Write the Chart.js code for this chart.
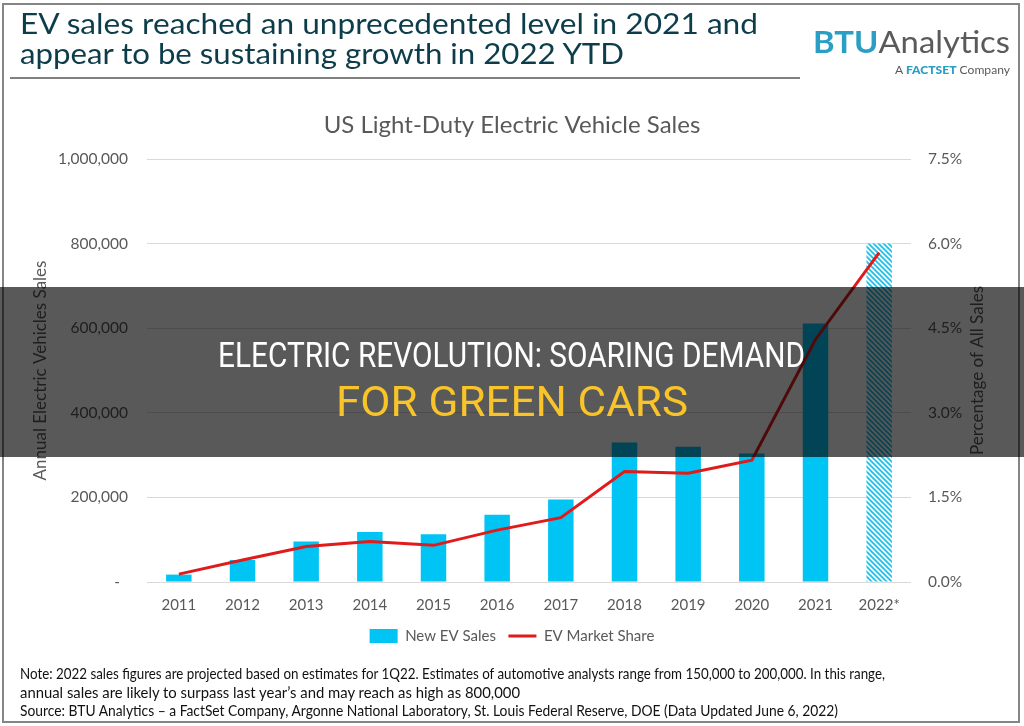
<!DOCTYPE html>
<html>
<head>
<meta charset="utf-8">
<script src="https://cdn.jsdelivr.net/npm/chart.js@4.4.1/dist/chart.umd.min.js"></script>
<style>
    html, body { margin:0; padding:0; background:#ffffff; }
    #page { position:relative; width:1024px; height:726px; overflow:hidden; font-family:Lato, "Open Sans", sans-serif; }
    #chartBox { position:absolute; left:0; top:0; width:1024px; height:726px; }
    .frame { position:absolute; left:2px; top:3px; width:1018px; height:720px; border:2px solid #858585; box-sizing:border-box; }
    .txt { position:absolute; white-space:nowrap; line-height:1; transform-origin:left center; }
    .head { font-size:28px; color:#0d3d4b; left:20px; }
    .rule { position:absolute; left:10px; top:77px; width:790px; height:2px; background:#808080; }
    .logo { font-size:30px; top:26px; color:#5a5a5a; }
    .logo b { color:#2a9ec4; font-weight:700; }
    .sub { font-size:12px; top:64px; color:#5a5a5a; }
    .sub b { color:#2a9ec4; font-weight:900; }
    .note { font-size:15px; color:#111111; left:20px; }
    .band { position:absolute; left:0; top:287px; width:1024px; height:170px; background:rgba(0,0,0,0.65); }
    .over { font-family:Roboto, sans-serif; font-weight:400; }
</style>
</head>
<body>
<div id="page">
    <div id="chartBox"><canvas id="evChart" width="1024" height="726"></canvas></div>
    <div class="frame"></div>

    <div class="txt head fit" data-w="738" style="top:9px;">EV sales reached an unprecedented level in 2021 and</div>
    <div class="txt head fit" data-w="604" style="top:39px;">appear to be sustaining growth in 2022 YTD</div>
    <div class="rule"></div>

    <div class="txt logo fit" data-w="197" style="left:813px;"><b>BTU</b>Analytics</div>
    <div class="txt sub fit" data-w="115" data-rx="1010"><span>A </span><b>FACTSET</b><span> Company</span></div>

    <div class="txt note fit" data-w="865" style="top:666px;">Note: 2022 sales figures are projected based on estimates for 1Q22. Estimates of automotive analysts range from 150,000 to 200,000. In this range,</div>
    <div class="txt note fit" data-w="500" style="top:685px;">annual sales are likely to surpass last year’s and may reach as high as 800,000</div>
    <div class="txt note fit" data-w="818" style="top:703px;">Source:  BTU Analytics – a FactSet Company, Argonne National Laboratory, St. Louis Federal Reserve, DOE (Data Updated June 6, 2022)</div>

    <div class="band"></div>
    <div class="txt over fit" data-w="587" data-cx="511" style="top:338px; font-size:35px; color:#ffffff;">ELECTRIC REVOLUTION: SOARING DEMAND</div>
    <div class="txt over fit" data-w="352" data-cx="512" style="top:381px; font-size:42px; color:#f8c42a;">FOR GREEN CARS</div>
</div>

<script>
// ======================================
// DATA
// ======================================

let years = ["2011","2012","2013","2014","2015","2016","2017","2018","2019","2020","2021","2022*"];

let evSales = [17500, 52000, 96000, 118000, 113000, 159000, 195000, 330000, 320000, 304000, 611000, 800000];

let marketShare = [0.14, 0.39, 0.63, 0.72, 0.65, 0.92, 1.14, 1.96, 1.93, 2.16, 4.30, 5.84];

let salesTicks = [0, 200000, 400000, 600000, 800000, 1000000];

let shareTicks = [0, 1.5, 3.0, 4.5, 6.0, 7.5];


// ======================================
// STRETCH HTML TEXT TO ITS WIDTH
// ======================================

function fitText(){

    document.querySelectorAll(".fit").forEach(function(el){

        let target = parseFloat(el.dataset.w);
        let natural = el.getBoundingClientRect().width;

        el.style.transform = "scaleX(" + (target / natural) + ")";

        if(el.dataset.cx){
            el.style.left = (parseFloat(el.dataset.cx) - target / 2) + "px";
        }

        if(el.dataset.rx){
            el.style.left = (parseFloat(el.dataset.rx) - target) + "px";
        }

    });

}


// ======================================
// HATCH FOR THE 2022 PROJECTION
// ======================================

function makeHatch(){

    let c = document.createElement("canvas");
    c.width = 5;
    c.height = 5;

    let g = c.getContext("2d");
    g.fillStyle = "#f4fcff";
    g.fillRect(0, 0, 5, 5);

    g.strokeStyle = "#22bfe6";
    g.lineWidth = 1.7;
    g.beginPath();
    g.moveTo(-1, -1); g.lineTo(6, 6);
    g.moveTo(-3, 2);  g.lineTo(3, 8);
    g.moveTo(2, -3);  g.lineTo(8, 3);
    g.stroke();

    return g.createPattern(c, "repeat");

}

let barColors = evSales.map(function(v, i){
    return i == evSales.length - 1 ? makeHatch() : "#00c4f4";
});


// ======================================
// RIGHT AXIS TITLE (reads bottom to top)
// ======================================

let rightTitle = {

    id:"rightTitle",

    afterDraw:function(chart){

        let ctx = chart.ctx;
        let area = chart.chartArea;
        let axis = chart.scales.y1;

        ctx.save();
        ctx.translate(axis.right - 46, (area.top + area.bottom) / 2);
        ctx.rotate(-Math.PI / 2);
        ctx.font = "17px Lato";
        ctx.fillStyle = "#595959";
        ctx.textAlign = "center";
        ctx.textBaseline = "middle";
        ctx.fillText("Percentage of All Sales", 0, 0);
        ctx.restore();

    }

};


// ======================================
// CHART
// ======================================

Chart.defaults.font.family = "Lato";
Chart.defaults.color = "#595959";

new Chart(document.getElementById("evChart"),{

    data:{

        labels:years,

        datasets:[
            {
                type:"bar",
                label:"New EV Sales",
                data:evSales,
                backgroundColor:barColors,
                borderWidth:0,
                barPercentage:0.4,
                categoryPercentage:1.0,
                pointStyle:"rect",
                yAxisID:"y",
                order:1
            },
            {
                type:"line",
                label:"EV Market Share",
                data:marketShare,
                borderColor:"#e01b1b",
                backgroundColor:"#e01b1b",
                borderWidth:3,
                pointRadius:0,
                tension:0,
                pointStyle:"line",
                yAxisID:"y1",
                order:0
            }
        ]

    },

    options:{

        responsive:false,
        animation:false,

        layout:{
            padding:{ top:0, left:0, right:0, bottom:72.5 }
        },

        plugins:{

            title:{
                display:true,
                text:"US Light-Duty Electric Vehicle Sales",
                font:{ size:24, weight:"normal" },
                color:"#595959",
                padding:{ top:110.6, bottom:19.6 }
            },

            legend:{
                position:"bottom",
                labels:{
                    usePointStyle:true,
                    pointStyleWidth:28,
                    boxHeight:14,
                    padding:12.5,
                    font:{ size:15 },
                    color:"#595959",
                    sort:function(a, b){ return a.datasetIndex - b.datasetIndex; }
                }
            },

            tooltip:{ enabled:false }

        },

        scales:{

            x:{
                grid:{ display:false },
                border:{ display:false },
                ticks:{ font:{ size:15 }, padding:6, maxRotation:0 },
                afterFit:function(s){ s.height = 34; }
            },

            y:{
                position:"left",
                min:salesTicks[0],
                max:salesTicks[salesTicks.length - 1],
                afterBuildTicks:function(s){
                    s.ticks = salesTicks.map(function(v){ return { value:v }; });
                },
                ticks:{
                    font:{ size:15.5 },
                    padding:19,
                    callback:function(v){
                        return v == 0 ? "-  " : v.toLocaleString("en-US");
                    }
                },
                grid:{ color:"#d9d9d9", lineWidth:1, drawTicks:false },
                border:{ display:false },
                title:{
                    display:true,
                    text:"Annual Electric Vehicles Sales",
                    font:{ size:17 },
                    color:"#595959",
                    padding:{ top:30, bottom:0 }
                },
                afterFit:function(s){ s.width = 147; }
            },

            y1:{
                position:"right",
                min:shareTicks[0],
                max:shareTicks[shareTicks.length - 1],
                afterBuildTicks:function(s){
                    s.ticks = shareTicks.map(function(v){ return { value:v }; });
                },
                ticks:{
                    font:{ size:15.5 },
                    padding:17,
                    callback:function(v){ return v.toFixed(1) + "%"; }
                },
                grid:{ display:false, drawTicks:false },
                border:{ display:false },
                afterFit:function(s){ s.width = 113; }
            }

        }

    },

    plugins:[rightTitle]

});

fitText();
</script>
</body>
</html>
